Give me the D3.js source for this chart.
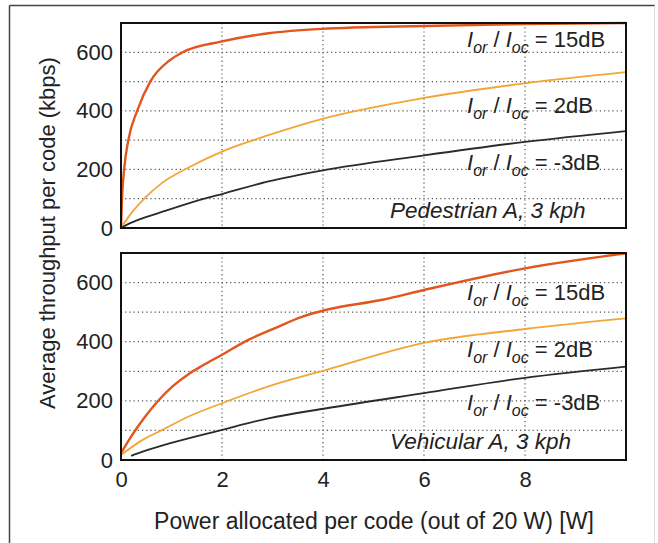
<!DOCTYPE html>
<head>
<meta charset="utf-8">
<script src="https://d3js.org/d3.v7.min.js"></script>
</head>
<body style="margin:0;background:#fff">
<style>
  text { font-family: "Liberation Sans", Arial, sans-serif; fill: #222; }
</style>
<div id="viz"></div>
<script>

// values (power in W, throughput in kbps)
var pedPower15 = [0, 0.02, 0.065, 0.145, 0.32, 0.58, 0.96, 1.22, 2.0, 2.92, 3.97, 6, 8, 10];
var pedTput15  = [0, 100, 205, 300, 400, 500, 572, 600, 637, 665, 680, 690, 696, 700];
var pedPower2  = [0, 0.15, 0.46, 0.82, 1.32, 2.0, 2.92, 3.97, 6, 8, 10];
var pedTput2   = [0, 38, 100, 155, 205, 261, 317, 372, 444, 494, 532];
var pedPowerM3 = [0, 0.16, 0.3, 0.89, 1.65, 2.0, 2.92, 3.97, 6, 8, 10];
var pedTputM3  = [0, 15, 25, 59, 100, 116, 159, 196, 248, 294, 331];

var vehPower15 = [0, 0.2, 0.48, 1.02, 1.35, 1.6, 2.0, 2.53, 3.05, 3.58, 4.07, 5.15, 6, 8, 10];
var vehTput15  = [23, 79, 147, 249, 292, 318, 356, 407, 446, 484, 508, 541, 575, 648, 699];
var vehPower2  = [0, 0.43, 0.82, 1.34, 2.0, 2.92, 4.07, 6, 8, 10];
var vehTput2   = [17, 68, 102, 147, 192, 249, 305, 396, 443, 479];
var vehPowerM3 = [0.2, 0.43, 0.96, 2.0, 2.92, 4.07, 6, 8, 10];
var vehTputM3  = [14, 28, 56, 102, 141, 175, 226, 278, 316];

var xTicks = [0, 2, 4, 6, 8];
var yTicks = [0, 200, 400, 600];
var yGrid = [100, 200, 300, 400, 500, 600];
var xGrid = [2, 4, 6, 8];
var labels15 = "= 15dB", labels2 = "= 2dB", labelsM3 = "= -3dB";

var colors = ["#e2561d", "#f2a635", "#2b2b2b"];

var W = 658, H = 543;
var svg = d3.select("#viz").append("svg")
    .attr("width", W).attr("height", H);

// outer frame
svg.append("line").attr("x1", 9.5).attr("x2", 9.5).attr("y1", 5.5).attr("y2", H)
  .attr("stroke", "#444").attr("stroke-width", 1.5);
svg.append("line").attr("x1", 9.5).attr("x2", 655).attr("y1", 5.5).attr("y2", 5.5)
  .attr("stroke", "#444").attr("stroke-width", 1.5);
svg.append("line").attr("x1", 654.5).attr("x2", 654.5).attr("y1", 5.5).attr("y2", H)
  .attr("stroke", "#ddd").attr("stroke-width", 1);

var x = d3.scaleLinear().domain([0, 10]).range([121, 626]);

function panel(top, bottom, series, caption, labelY) {
  var y = d3.scaleLinear().domain([0, 700]).range([bottom, top]);
  var g = svg.append("g");

  g.selectAll(".hg").data(yGrid).enter().append("line")
    .attr("x1", x(0)).attr("x2", x(10))
    .attr("y1", function(d) { return y(d); }).attr("y2", function(d) { return y(d); })
    .attr("stroke", "#555").attr("stroke-width", 1.2).attr("stroke-dasharray", "1.2,3");
  g.selectAll(".vg").data(xGrid).enter().append("line")
    .attr("x1", function(d) { return x(d); }).attr("x2", function(d) { return x(d); })
    .attr("y1", top).attr("y2", bottom)
    .attr("stroke", "#555").attr("stroke-width", 1.2).attr("stroke-dasharray", "1.2,3");

  // annotations
  var labs = [labels15, labels2, labelsM3];
  labs.forEach(function(l, i) {
    var t = g.append("text").attr("x", 467).attr("y", labelY[i])
      .style("font-size", "22px");
    t.append("tspan").style("font-style", "italic").text("I");
    t.append("tspan").style("font-style", "italic").style("font-size", "16px").attr("dy", 6).text("or");
    t.append("tspan").attr("dy", -6).text(" / ");
    t.append("tspan").style("font-style", "italic").text("I");
    t.append("tspan").style("font-style", "italic").style("font-size", "16px").attr("dy", 6).text("oc");
    t.append("tspan").attr("dy", -6).text(" " + l);
  });
  g.append("text").attr("x", 390).attr("y", labelY[3])
    .style("font-size", "22.5px").style("font-style", "italic").text(caption);

  var line = d3.line()
    .curve(d3.curveMonotoneX)
    .x(function(d) { return x(d[0]); })
    .y(function(d) { return y(d[1]); });
  series.forEach(function(s, i) {
    g.append("path").datum(d3.zip(s[0], s[1]))
      .attr("fill", "none").attr("stroke", colors[i])
      .attr("stroke-width", i == 0 ? 2.4 : 1.8)
      .attr("d", line);
  });

  g.append("rect").attr("x", x(0)).attr("y", top)
    .attr("width", x(10) - x(0)).attr("height", bottom - top)
    .attr("fill", "none").attr("stroke", "#111").attr("stroke-width", 2);

  var ya = g.append("g").attr("transform", "translate(" + x(0) + ",0)")
    .call(d3.axisLeft(y).tickValues(yTicks).tickSize(0).tickPadding(8));
  ya.select(".domain").remove();
  ya.selectAll("text").style("font-size", "22px").attr("fill", "#222");
  return y;
}

panel(23, 228, [[pedPower15, pedTput15], [pedPower2, pedTput2], [pedPowerM3, pedTputM3]],
  "Pedestrian A, 3 kph", [47, 113, 170, 218]);
panel(253, 460, [[vehPower15, vehTput15], [vehPower2, vehTput2], [vehPowerM3, vehTputM3]],
  "Vehicular A, 3 kph", [300, 357, 410, 449]);

var xa = svg.append("g").attr("transform", "translate(0,460)")
  .call(d3.axisBottom(x).tickValues(xTicks).tickFormat(d3.format("d")).tickSize(0).tickPadding(11));
xa.select(".domain").remove();
xa.selectAll("text").style("font-size", "22px").attr("fill", "#222");

svg.append("text").attr("x", 374).attr("y", 529)
  .style("text-anchor", "middle").style("font-size", "23px")
  .text("Power allocated per code (out of 20 W) [W]");

svg.append("text")
  .attr("transform", "translate(55,233) rotate(-90)")
  .style("text-anchor", "middle").style("font-size", "22px")
  .text("Average throughput per code (kbps)");

</script>
</body>
